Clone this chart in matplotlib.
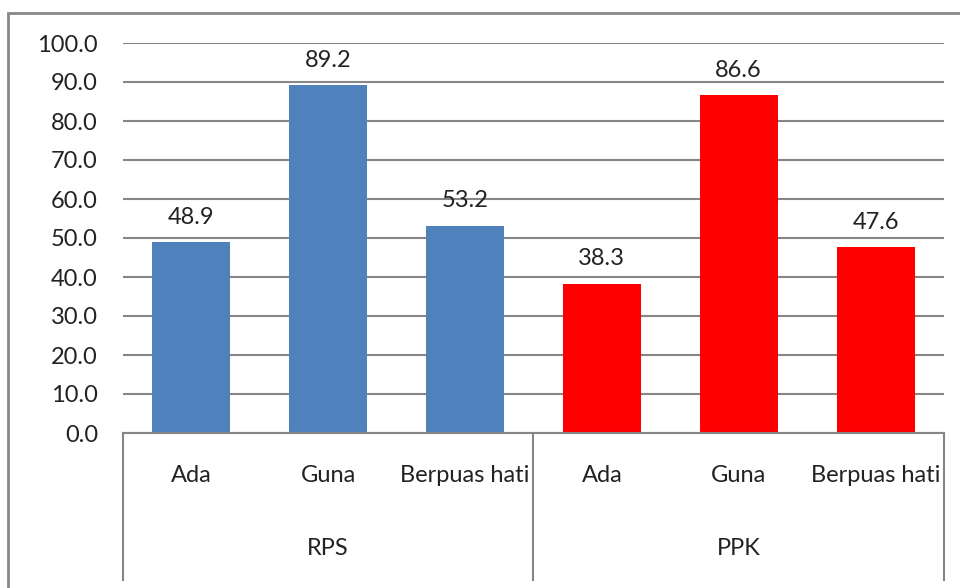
import matplotlib.pyplot as plt
from matplotlib.patches import Rectangle
from matplotlib.transforms import blended_transform_factory

# data
groups = ['RPS', 'PPK']
items = ['Ada', 'Guna', 'Berpuas hati']
rps = [48.9, 89.2, 53.2]
ppk = [38.3, 86.6, 47.6]
yticks = [0, 10, 20, 30, 40, 50, 60, 70, 80, 90, 100]

plt.rcParams['font.family'] = ['Lato', 'DejaVu Sans']
fs = 17
grey = '#868686'

fig = plt.figure(figsize=(9.6, 5.88), dpi=100)
ax = fig.add_axes([123/960, 1 - 433/588, (944 - 123)/960, 390/588])

# outer chart border (cut off at right and bottom like the screenshot)
fig.patches.append(Rectangle((8/960, -0.1), 1.2, 1 - 13/588 + 0.1,
                             transform=fig.transFigure, fill=False,
                             edgecolor='#888888', linewidth=2))

values = rps + ppk
colors = ['#4F81BD'] * len(rps) + ['#FF0000'] * len(ppk)
xs = list(range(len(values)))
ax.bar(xs, values, width=0.57, color=colors, zorder=3)

for x, v in zip(xs, values):
    ax.annotate(f'{v:.1f}', (x, v), xytext=(0, 18), textcoords='offset points',
                ha='center', va='center', fontsize=fs, color='#222222')

ax.set_xlim(-0.5, len(values) - 0.5)
ax.set_ylim(0, 100)
ax.set_yticks(yticks)
ax.set_yticklabels([f'{t:.1f}' for t in yticks], fontsize=fs, color='#222222')
ax.tick_params(axis='y', length=0, pad=18)
ax.set_xticks([])
ax.grid(axis='y', color=grey, linewidth=1.5, zorder=0)
for s in ['left', 'right', 'top']:
    ax.spines[s].set_visible(False)
ax.spines['bottom'].set_color(grey)
ax.spines['bottom'].set_linewidth(1.5)
ax.spines['bottom'].set_zorder(4)

# multi-level category axis
tr = blended_transform_factory(ax.transData, ax.transAxes)
for x, lab in zip(xs, items + items):
    ax.text(x, -0.110, lab, transform=tr, ha='center', va='center',
            fontsize=fs, color='#222222')
for i, g in enumerate(groups):
    ax.text(i * 3 + 1, -0.297, g, transform=tr, ha='center', va='center',
            fontsize=fs, color='#222222')
for sx in [-0.5, 2.5, 5.5]:
    ax.plot([sx, sx], [0, -0.377], transform=tr, color=grey,
            linewidth=1.5, clip_on=False)

fig.savefig('out.png', dpi=100)
